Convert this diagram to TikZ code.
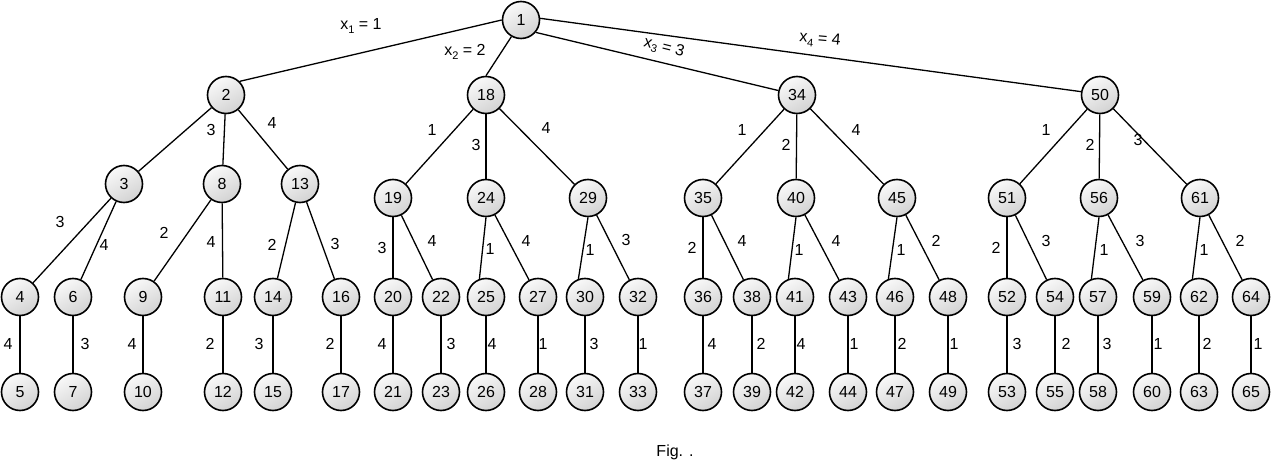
\documentclass[tikz,border=0pt]{standalone}
\usepackage{fontspec}
\setmainfont{Liberation Sans}
\newcommand\xsub[1]{x\raisebox{-0.4ex}{\fontsize{11}{12}\selectfont #1}}
\begin{document}
\begin{tikzpicture}[x=1pt,y=-1pt,
  vtx/.style={circle,draw=black,line width=1.6pt,minimum size=37pt,inner sep=0pt,
    shading=axis,top color=white!95!gray,bottom color=gray!35,shading angle=30,
    font=\fontsize{16}{19}\selectfont},
  edge/.style={line width=1.3pt},
  lbl/.style={font=\fontsize{16}{19}\selectfont,inner sep=0pt}]
\useasboundingbox (0,0) rectangle (1272,462);
% nodes
\foreach \n/\x/\y in {1/521/20,
  2/226/95,18/486/95,34/797/95,50/1100/95,
  3/124/184,8/222/184,13/300/184,
  19/393/198,24/486/198,29/588/198,
  35/703/198,40/796/198,45/897/198,
  51/1007/198,56/1099/198,61/1200/198,
  4/20/297,6/73/297,9/143/297,11/223/297,14/273/297,16/341/297,
  20/393/297,22/441/297,25/486/297,27/538/297,30/585/297,32/638/297,
  36/703/297,38/752/297,41/795/297,43/848/297,46/895/297,48/948/297,
  52/1007/297,54/1055/297,57/1098/297,59/1152/297,62/1199/297,64/1251/297,
  5/20/392,7/73/392,10/143/392,12/223/392,15/273/392,17/341/392,
  21/393/392,23/441/392,26/486/392,28/538/392,31/585/392,33/638/392,
  37/703/392,39/752/392,42/795/392,44/848/392,47/895/392,49/948/392,
  53/1007/392,55/1055/392,58/1098/392,60/1152/392,63/1199/392,65/1251/392}
  \node[vtx] (n\n) at (\x,\y) {\n};
% edges from the root
\draw[edge] (n1.west) -- (n2.45);
\draw[edge] (n1.-120) -- (n18.north);
\draw[edge] (n1.-40) -- (n34);
\draw[edge] (n1.5) -- (n50.170);
% other edges
\foreach \a/\b in {
  2/3,2/8,2/13,18/19,18/24,18/29,34/35,34/40,34/45,50/51,50/56,50/61,
  3/4,3/6,8/9,8/11,13/14,13/16,19/20,19/22,24/27,29/32,
  35/36,35/38,40/43,45/48,51/52,51/54,56/59,61/64,
  4/5,6/7,9/10,11/12,14/15,16/17,20/21,22/23,25/26,27/28,30/31,32/33,
  36/37,38/39,41/42,43/44,46/47,48/49,52/53,54/55,57/58,59/60,62/63,64/65}
  \draw[edge] (n\a) -- (n\b);
% slanted edges that end left of the child's top
\foreach \a/\b in {24/25,29/30,40/41,45/46,56/57,61/62}
  \draw[edge] (n\a.south) -- (n\b.110);
% top labels
\node[lbl] (lx1) at (361,26) {\xsub{1} = 1};
\node[lbl] (lx2) at (465,52) {\xsub{2} = 2};
\node[lbl,rotate=-14] (lx3) at (664,48) {\xsub{3} = 3};
\node[lbl,rotate=-5] (lx4) at (820,40) {\xsub{4} = 4};
% edge labels
\foreach \t/\x/\y [count=\i] in {
  3/211/130,4/272/123,
  1/432/130,3/476/145,4/546/128,
  1/742/130,2/786/145,4/856/130,
  1/1046/130,2/1090/145,3/1138/140,
  3/60/222,4/104/245,2/164/233,4/211/242,2/272/245,3/335/244,
  3/382/248,4/432/241,1/490/249,4/526/241,1/590/250,3/626/240,
  2/692/248,4/742/241,1/799/250,4/836/241,1/901/250,2/936/241,
  2/996/248,3/1046/241,1/1104/250,3/1140/241,1/1204/250,2/1240/241,
  4/8/344,3/85/344,4/132/344,2/210/344,3/259/344,2/330/344,
  4/382/344,3/451/344,4/492/344,1/543/344,3/594/344,1/643/344,
  4/712/344,2/761/344,4/801/344,1/854/344,2/902/344,1/954/344,
  3/1017/344,2/1066/344,3/1107/344,1/1158/344,2/1207/344,1/1258/344}
  \node[lbl] (el\i) at (\x,\y) {\t};
\node[lbl] (cap) at (675,452) {Fig. .};
\end{tikzpicture}
\end{document}
